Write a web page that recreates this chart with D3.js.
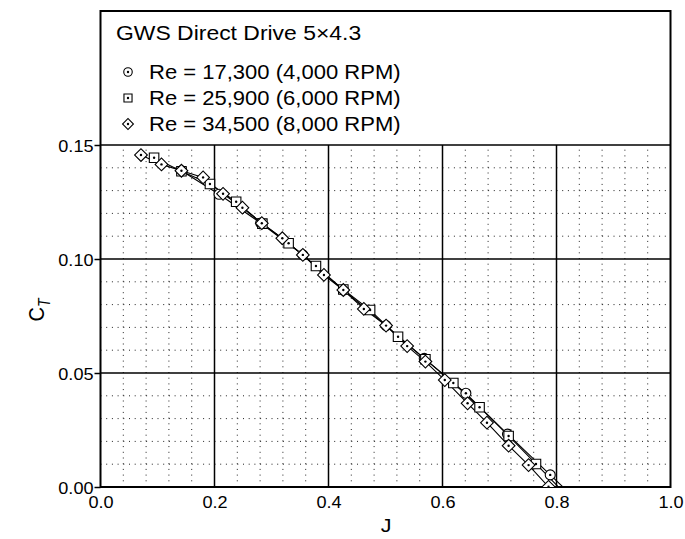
<!DOCTYPE html>
<html><head><meta charset="utf-8">
<script src="https://cdn.jsdelivr.net/npm/d3@7"></script>
<style>html,body{margin:0;padding:0;background:#fff}svg{display:block}text{font-family:"Liberation Sans",Arial,sans-serif;fill:#000}</style>
</head><body>
<script>
// ---- data ----
const title = "GWS Direct Drive 5\u00d74.3";
const seriesNames = ["Re = 17,300 (4,000 RPM)", "Re = 25,900 (6,000 RPM)", "Re = 34,500 (8,000 RPM)"];
const seriesSymbols = ["circle", "square", "diamond"];
const J1 = [0.142, 0.208, 0.281, 0.355, 0.426, 0.501, 0.568, 0.641, 0.714, 0.789, 0.862];
const CT1 = [0.1387, 0.1284, 0.1158, 0.1018, 0.0864, 0.0708, 0.0564, 0.0411, 0.0232, 0.0053, -0.0120];
const J2 = [0.094, 0.142, 0.192, 0.238, 0.284, 0.330, 0.378, 0.426, 0.473, 0.522, 0.570, 0.619, 0.665, 0.716, 0.764, 0.812];
const CT2 = [0.1444, 0.1385, 0.1329, 0.1251, 0.1155, 0.1069, 0.0969, 0.0866, 0.0776, 0.0659, 0.0560, 0.0456, 0.0350, 0.0224, 0.0101, -0.0022];
const J3 = [0.071, 0.107, 0.142, 0.180, 0.215, 0.249, 0.283, 0.319, 0.355, 0.392, 0.426, 0.462, 0.501, 0.538, 0.570, 0.604, 0.644, 0.678, 0.716, 0.751, 0.786];
const CT3 = [0.1456, 0.1415, 0.1387, 0.1358, 0.1286, 0.1225, 0.1157, 0.1091, 0.1018, 0.0930, 0.0864, 0.0781, 0.0708, 0.0618, 0.0550, 0.0469, 0.0367, 0.0282, 0.0181, 0.0096, 0.0001];
const xTicks = [0, 0.2, 0.4, 0.6, 0.8, 1.0];
const yTicks = [0, 0.05, 0.10, 0.15];
const xLabel = "J";

// ---- layout ----
const W = 685, H = 539;
const L = 100.5, R = 670.5, B = 487, T0 = 145, TOP = 11;
const SX = 1.13; // horizontal text stretch
const x = d3.scaleLinear().domain([0, 1]).range([L, R]);
const y = d3.scaleLinear().domain([0, 0.15]).range([B, T0]);

const svg = d3.select("body").append("svg").attr("width", W).attr("height", H);

function stext(g, tx, ty, str, size, anchor, sx) {
  return g.append("text").attr("transform", `translate(${tx},${ty}) scale(${sx || SX},1)`)
    .attr("font-size", size).attr("text-anchor", anchor || "start").text(str);
}

// minor grid
const minorX = d3.range(1, 25).map(i => i * 0.04).filter(v => Math.abs(v / 0.2 - Math.round(v / 0.2)) > 1e-6);
const minorY = d3.range(1, 15).map(i => i * 0.01).filter(v => Math.abs(v / 0.05 - Math.round(v / 0.05)) > 1e-6);
const grid = svg.append("g");
grid.selectAll(".mx").data(minorX).join("line")
  .attr("x1", d => x(d)).attr("x2", d => x(d)).attr("y1", B).attr("y2", T0)
  .attr("stroke", "#222").attr("stroke-width", 1).attr("stroke-dasharray", "1,4.7");
grid.selectAll(".my").data(minorY).join("line")
  .attr("x1", L).attr("x2", R).attr("y1", d => y(d)).attr("y2", d => y(d))
  .attr("stroke", "#222").attr("stroke-width", 1).attr("stroke-dasharray", "1,4.7");
// major grid
grid.selectAll(".Mx").data(xTicks.slice(1, -1)).join("line")
  .attr("x1", d => x(d)).attr("x2", d => x(d)).attr("y1", B).attr("y2", T0)
  .attr("stroke", "#000").attr("stroke-width", 1.5);
grid.selectAll(".My").data(yTicks.slice(1)).join("line")
  .attr("x1", L).attr("x2", R).attr("y1", d => y(d)).attr("y2", d => y(d))
  .attr("stroke", "#000").attr("stroke-width", 1.5);

// frame
svg.append("rect").attr("x", L).attr("y", TOP).attr("width", R - L).attr("height", B - TOP)
  .attr("fill", "none").attr("stroke", "#000").attr("stroke-width", 2);

// axes
const yAxis = d3.axisLeft(y).tickValues(yTicks).tickFormat(d3.format(".2f")).tickSize(6).tickPadding(3);
const ya = svg.append("g").attr("transform", `translate(${L},0)`).call(yAxis);
ya.select(".domain").remove();
ya.selectAll("line").attr("stroke-width", 1.5);
ya.selectAll(".tick text").attr("font-size", 16).attr("font-family", null)
  .attr("x", null).attr("dy", null).attr("y", 6)
  .attr("transform", `translate(${-7},0) scale(${SX},1)`);
const xAxis = d3.axisBottom(x).tickValues(xTicks).tickFormat(d3.format(".1f")).tickSize(0).tickPadding(0);
const xa = svg.append("g").attr("transform", `translate(0,${B})`).call(xAxis);
xa.select(".domain").remove();
xa.selectAll(".tick text").attr("font-size", 16).attr("font-family", null)
  .attr("y", null).attr("dy", null).attr("transform", `translate(0,21) scale(${SX},1)`);

// axis labels
stext(svg, 386, 532, xLabel, 19, "middle");
const yl = svg.append("text").attr("transform", `translate(44,310) rotate(-90) scale(1,${SX})`)
  .attr("font-size", 20).attr("text-anchor", "middle");
yl.append("tspan").text("C");
yl.append("tspan").attr("font-size", 14).attr("font-style", "italic").attr("dy", 5).text("T");

// symbols
const symGen = {
  circle: d3.symbol(d3.symbolCircle, Math.PI * 5 * 5),
  square: d3.symbol(d3.symbolSquare, 9.5 * 9.5),
  diamond: d3.symbol(d3.symbolSquare, 9 * 9)
};
function drawMarker(g, type, cx, cy, scale) {
  const s = scale || 1;
  const rot = type === "diamond" ? " rotate(45)" : "";
  g.append("path").attr("d", symGen[type]()).attr("transform", `translate(${cx},${cy}) scale(${s})${rot}`)
    .attr("fill", "#fff").attr("stroke", "#000").attr("stroke-width", 1.1 / s);
  g.append("circle").attr("cx", cx).attr("cy", cy).attr("r", 1.2).attr("fill", "#000");
}

// clip
svg.append("clipPath").attr("id", "clip").append("rect")
  .attr("x", L).attr("y", TOP).attr("width", R - L).attr("height", B - TOP);

const series = [
  { J: J1, CT: CT1, sym: seriesSymbols[0] },
  { J: J2, CT: CT2, sym: seriesSymbols[1] },
  { J: J3, CT: CT3, sym: seriesSymbols[2] }
];
const line = d3.line().x(d => x(d[0])).y(d => y(d[1]));
const plot = svg.append("g").attr("clip-path", "url(#clip)");
series.forEach(s => {
  const pts = s.J.map((j, i) => [j, s.CT[i]]);
  plot.append("path").attr("d", line(pts)).attr("fill", "none").attr("stroke", "#000").attr("stroke-width", 1.1);
});
series.forEach(s => {
  const g = plot.append("g");
  s.J.forEach((j, i) => { if (s.CT[i] >= 0) drawMarker(g, s.sym, x(j), y(s.CT[i])); });
});

// legend
stext(svg, 116, 40, title, 20.3, "start");
seriesNames.forEach((name, i) => {
  const cy = 72 + i * 26;
  drawMarker(svg, seriesSymbols[i], 128, cy, 0.85);
  stext(svg, 149, cy + 7, name, 19.5, "start");
});
</script>
</body></html>
